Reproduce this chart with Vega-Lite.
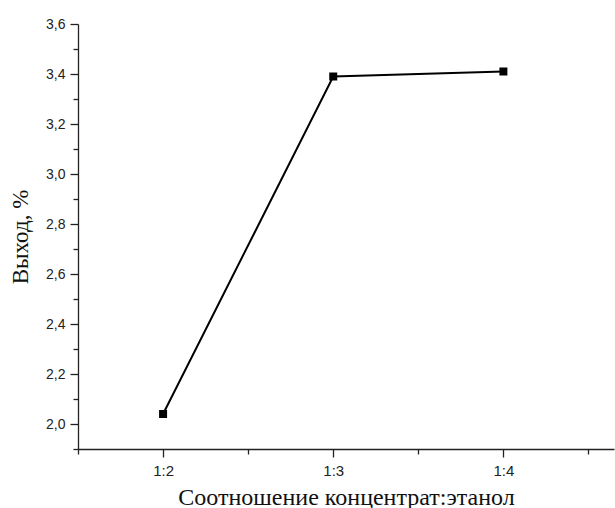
{
  "$schema": "https://vega.github.io/schema/vega-lite/v6.json",
  "autosize": "none",
  "width": 536,
  "height": 425,
  "padding": {"left": 78, "top": 24, "right": 1, "bottom": 59},
  "background": "white",
  "config": {"view": {"stroke": null}, "axis": {"grid": false, "domainColor": "#222", "tickColor": "#222", "domainWidth": 1.3, "tickWidth": 1.3}},
  "data": {"values": [
    {"ratio": 2, "label": "1:2", "yield": 2.04},
    {"ratio": 3, "label": "1:3", "yield": 3.39},
    {"ratio": 4, "label": "1:4", "yield": 3.41}
  ]},
  "layer": [
    {
      "mark": {"type": "line", "color": "black", "strokeWidth": 2},
      "encoding": {
        "x": {"field": "ratio", "type": "quantitative", "scale": {"domain": [1.5, 4.65], "nice": false, "zero": false},
          "axis": {"orient": "bottom", "values": [2, 3, 4], "labelExpr": "'1:' + datum.value", "tickSize": 8, "labelPadding": 6, "labelFont": "Liberation Sans", "labelFontSize": 15, "labelColor": "#222", "title": "Соотношение концентрат:этанол", "titleFont": "Liberation Serif", "titleFontSize": 24, "titleFontWeight": "normal", "titleColor": "#111", "titlePadding": 7}},
        "y": {"field": "yield", "type": "quantitative", "scale": {"domain": [1.9, 3.6], "nice": false, "zero": false},
          "axis": {"orient": "left", "values": [2.0, 2.2, 2.4, 2.6, 2.8, 3.0, 3.2, 3.4, 3.6], "labelExpr": "replace(format(datum.value, '.1f'), '.', ',')", "tickSize": 8, "labelPadding": 5, "labelFont": "Liberation Sans", "labelFontSize": 14, "labelColor": "#222", "title": "Выход, %", "titleFont": "Liberation Serif", "titleFontSize": 23, "titleFontWeight": "normal", "titleColor": "#111", "titlePadding": 13}}
      }
    },
    {
      "mark": {"type": "square", "color": "black", "size": 64, "opacity": 1},
      "encoding": {
        "x": {"field": "ratio", "type": "quantitative", "axis": {"orient": "bottom", "values": [1.5, 2.5, 3.5, 4.5], "labels": false, "tickSize": 5, "title": null, "domain": false}},
        "y": {"field": "yield", "type": "quantitative", "axis": {"orient": "left", "values": [1.9, 2.1, 2.3, 2.5, 2.7, 2.9, 3.1, 3.3, 3.5], "labels": false, "tickSize": 5, "title": null, "domain": false}}
      }
    }
  ],
  "resolve": {"axis": {"x": "independent", "y": "independent"}}
}
